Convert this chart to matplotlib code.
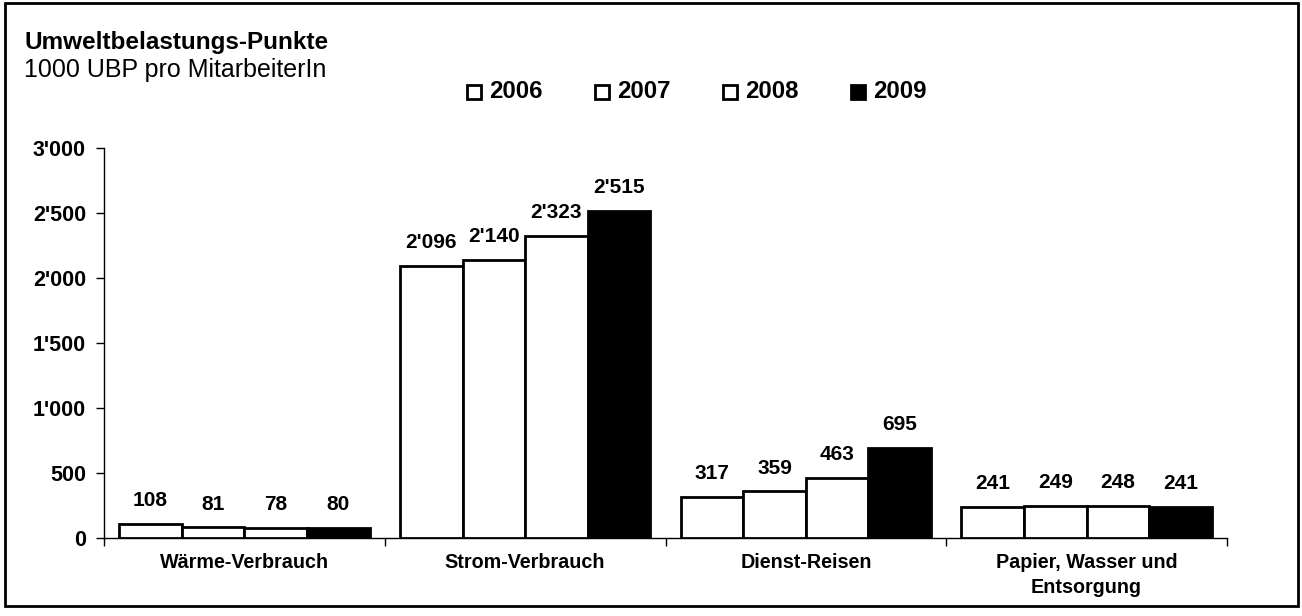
import matplotlib
matplotlib.use("Agg")
import matplotlib.pyplot as plt
from matplotlib.patches import Rectangle
import numpy as np

plt.rcParams['font.family'] = ['Liberation Sans', 'DejaVu Sans']

categories = ["Wärme-Verbrauch", "Strom-Verbrauch", "Dienst-Reisen", "Papier, Wasser und\nEntsorgung"]
years = ["2006", "2007", "2008", "2009"]
values = {
    "2006": [108, 2096, 317, 241],
    "2007": [81, 2140, 359, 249],
    "2008": [78, 2323, 463, 248],
    "2009": [80, 2515, 695, 241],
}
colors = {"2006": "white", "2007": "white", "2008": "white", "2009": "black"}
yticks = [0, 500, 1000, 1500, 2000, 2500, 3000]

W, H = 1302, 616
fig = plt.figure(figsize=(W/100, H/100), dpi=100)
ax = fig.add_axes([104/W, 1-538/H, (1227-104)/W, (538-148)/H])

def fmt(v):
    return f"{v:,}".replace(",", "'")

n = len(years)
bw = 0.223
centers = np.arange(len(categories)) + 0.5
for i, y in enumerate(years):
    xs = centers + (i - (n-1)/2) * bw
    ax.bar(xs, values[y], width=bw, color=colors[y], edgecolor="black", linewidth=2, zorder=3)
    for x, v in zip(xs, values[y]):
        ax.text(x, v + 3000*0.035, fmt(v), ha="center", va="bottom", fontsize=15, fontweight="bold")

ax.set_xlim(0, len(categories))
ax.set_ylim(0, 3000)
ax.set_yticks(yticks)
ax.set_yticklabels([fmt(t) for t in yticks], fontsize=15.5, fontweight="bold")
ax.set_xticks(np.arange(len(categories)+1))
ax.set_xticklabels([])
ax.set_xticks(centers, minor=True)
ax.set_xticklabels(categories, minor=True, fontsize=14.2, fontweight="bold", linespacing=1.4)
ax.tick_params(axis="x", which="minor", length=0, pad=11)
ax.tick_params(axis="x", which="major", length=6, width=1)
ax.tick_params(axis="y", length=6, width=1, pad=7)
for s in ["top", "right"]:
    ax.spines[s].set_visible(False)
ax.spines["left"].set_linewidth(1)
ax.spines["bottom"].set_linewidth(1)

# Title / subtitle
fig.text(24/W, 1-43/H, "Umweltbelastungs-Punkte", fontsize=17.5, fontweight="bold", va="center", ha="left")
fig.text(24/W, 1-70/H, "1000 UBP pro MitarbeiterIn", fontsize=18, va="center", ha="left")

# Legend
lx0, step = 467, 128
for i, y in enumerate(years):
    x = lx0 + i*step
    fig.patches.append(Rectangle((x/W, 1-99/H), 14/W, 14/H, transform=fig.transFigure,
                                 facecolor=colors[y], edgecolor="black", linewidth=2))
    fig.text((x+22)/W, 1-92/H, y, fontsize=17.3, fontweight="bold", va="center", ha="left")

# border
fig.patches.append(Rectangle((5/W, 1-606/H), (1298-5)/W, (606-3)/H, transform=fig.transFigure,
                             facecolor="none", edgecolor="black", linewidth=2))

fig.savefig("out.png", dpi=100)
